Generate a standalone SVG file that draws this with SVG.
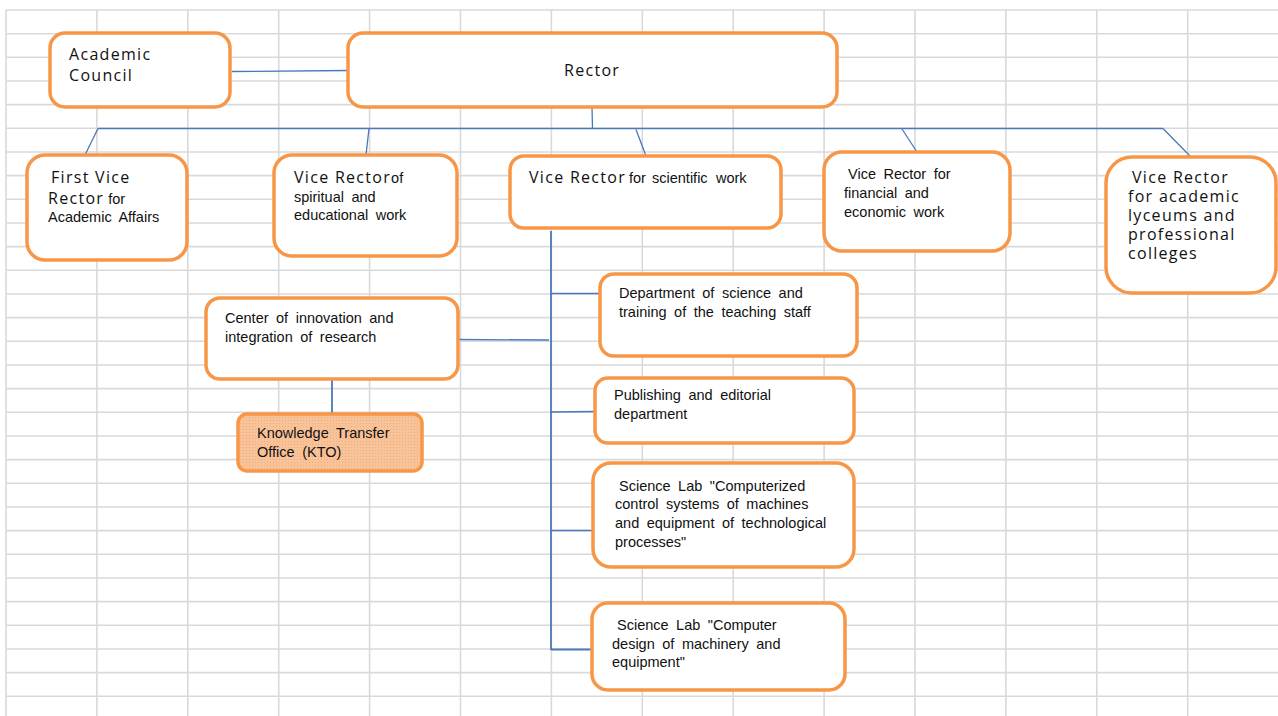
<svg xmlns="http://www.w3.org/2000/svg" width="1278" height="716" viewBox="0 0 1278 716">
<style>
.grid line{stroke:#d9d9d9;stroke-width:1.6}
.box{fill:#ffffff;stroke:#f79646;stroke-width:3.5}
.kto{fill:url(#dots);stroke:#f79646;stroke-width:3.5}
.big{font-family:"Open Sans","DejaVu Sans",sans-serif;font-size:16px;letter-spacing:1.3px;fill:#111}
.sm{font-family:"Liberation Sans",Arial,sans-serif;font-size:14.5px;word-spacing:3.5px;fill:#111;letter-spacing:0}
.conn path{fill:none;stroke:#4a78bd;stroke-width:1.3}
.trunk{stroke-width:1.8 !important}
</style>
<defs>
<pattern id="dots" width="3" height="3" patternUnits="userSpaceOnUse">
<rect width="3" height="3" fill="#f9c39a"/>
<rect width="1" height="1" fill="#f3ad7d"/>
</pattern>
</defs>
<rect width="1278" height="716" fill="#ffffff"/>
<g class="grid">
<line x1="6" y1="10" x2="6" y2="716"/>
<line x1="96.9" y1="10" x2="96.9" y2="716"/>
<line x1="187.8" y1="10" x2="187.8" y2="716"/>
<line x1="278.7" y1="10" x2="278.7" y2="716"/>
<line x1="369.6" y1="10" x2="369.6" y2="716"/>
<line x1="460.5" y1="10" x2="460.5" y2="716"/>
<line x1="551.4" y1="10" x2="551.4" y2="716"/>
<line x1="642.3" y1="10" x2="642.3" y2="716"/>
<line x1="733.2" y1="10" x2="733.2" y2="716"/>
<line x1="824.1" y1="10" x2="824.1" y2="716"/>
<line x1="915" y1="10" x2="915" y2="716"/>
<line x1="1005.9" y1="10" x2="1005.9" y2="716"/>
<line x1="1096.8" y1="10" x2="1096.8" y2="716"/>
<line x1="1187.7" y1="10" x2="1187.7" y2="716"/>
<line x1="6" y1="10" x2="1278" y2="10"/>
<line x1="6" y1="33.7" x2="1278" y2="33.7"/>
<line x1="6" y1="57.3" x2="1278" y2="57.3"/>
<line x1="6" y1="81" x2="1278" y2="81"/>
<line x1="6" y1="104.6" x2="1278" y2="104.6"/>
<line x1="6" y1="128.3" x2="1278" y2="128.3"/>
<line x1="6" y1="152" x2="1278" y2="152"/>
<line x1="6" y1="175.6" x2="1278" y2="175.6"/>
<line x1="6" y1="199.3" x2="1278" y2="199.3"/>
<line x1="6" y1="223" x2="1278" y2="223"/>
<line x1="6" y1="246.6" x2="1278" y2="246.6"/>
<line x1="6" y1="270.3" x2="1278" y2="270.3"/>
<line x1="6" y1="294" x2="1278" y2="294"/>
<line x1="6" y1="317.6" x2="1278" y2="317.6"/>
<line x1="6" y1="341.3" x2="1278" y2="341.3"/>
<line x1="6" y1="365" x2="1278" y2="365"/>
<line x1="6" y1="388.6" x2="1278" y2="388.6"/>
<line x1="6" y1="412.3" x2="1278" y2="412.3"/>
<line x1="6" y1="436" x2="1278" y2="436"/>
<line x1="6" y1="459.6" x2="1278" y2="459.6"/>
<line x1="6" y1="483.3" x2="1278" y2="483.3"/>
<line x1="6" y1="507" x2="1278" y2="507"/>
<line x1="6" y1="530.6" x2="1278" y2="530.6"/>
<line x1="6" y1="554.3" x2="1278" y2="554.3"/>
<line x1="6" y1="578" x2="1278" y2="578"/>
<line x1="6" y1="601.6" x2="1278" y2="601.6"/>
<line x1="6" y1="625.3" x2="1278" y2="625.3"/>
<line x1="6" y1="649" x2="1278" y2="649"/>
<line x1="6" y1="672.6" x2="1278" y2="672.6"/>
<line x1="6" y1="696.3" x2="1278" y2="696.3"/>
</g>
<g class="conn">
<path d="M232,71.5 L348,70.5"/>
<path d="M592,107 L592.5,128.5"/>
<path d="M98,128.5 L1163,128.5"/>
<path d="M98,128.5 L85,155"/>
<path d="M369,128.5 L366,155"/>
<path d="M636,129.5 L646,156"/>
<path d="M902,129 L917,152"/>
<path d="M1163,128.5 L1191,157"/>
<path class="trunk" d="M551,231 L551,650"/>
<path d="M551,293.5 L600,293.5"/>
<path d="M551,412 L596,411.5"/>
<path d="M458,339.5 L549,340"/>
<path class="trunk" d="M332,379 L332,414"/>
<path d="M551,530.5 L594,530.5"/>
<path class="trunk" d="M551,649.5 L593,649.5"/>
</g>
<g id="academic-council">
<rect class="box" x="50" y="33" width="180" height="74" rx="15"/>
<text class="big" x="69" y="60">Academic</text>
<text class="big" x="69" y="81">Council</text>
</g>
<g id="rector">
<rect class="box" x="348" y="33" width="489" height="74" rx="15"/>
<text class="big" x="564" y="76">Rector</text>
</g>
<g id="first-vice-rector">
<rect class="box" x="27" y="155" width="160" height="105" rx="18"/>
<text class="big" x="51" y="183">First Vice</text>
<text x="48" y="204"><tspan class="big">Rector</tspan><tspan class="sm" dx="4">for</tspan></text>
<text class="sm" x="48" y="222">Academic Affairs</text>
</g>
<g id="vr-spiritual">
<rect class="box" x="274" y="155" width="183" height="101" rx="18"/>
<text x="294" y="183"><tspan class="big">Vice Rector</tspan><tspan class="sm">of</tspan></text>
<text class="sm" x="294" y="202">spiritual and</text>
<text class="sm" x="294" y="220">educational work</text>
</g>
<g id="vr-scientific">
<rect class="box" x="510" y="156" width="271" height="72" rx="14"/>
<text x="529" y="183"><tspan class="big">Vice Rector</tspan><tspan class="sm" x="629">for</tspan><tspan class="sm" x="652">scientific</tspan><tspan class="sm" x="716">work</tspan></text>
</g>
<g id="vr-financial">
<rect class="box" x="824" y="152" width="186" height="99" rx="18"/>
<text class="sm" x="848" y="179">Vice Rector for</text>
<text class="sm" x="844" y="198">financial and</text>
<text class="sm" x="844" y="217">economic work</text>
</g>
<g id="vr-lyceums">
<rect class="box" x="1106" y="157" width="170" height="136" rx="26"/>
<text class="big" x="1132" y="183">Vice Rector</text>
<text class="big" x="1128" y="202">for academic</text>
<text class="big" x="1128" y="221">lyceums and</text>
<text class="big" x="1128" y="240">professional</text>
<text class="big" x="1128" y="259">colleges</text>
</g>
<g id="dept-science">
<rect class="box" x="600" y="274" width="257" height="82" rx="14"/>
<text class="sm" x="619" y="298">Department of science and</text>
<text class="sm" x="619" y="317">training of the teaching staff</text>
</g>
<g id="center-innovation">
<rect class="box" x="206" y="298" width="252" height="81" rx="14"/>
<text class="sm" x="225" y="323">Center of innovation and</text>
<text class="sm" x="225" y="342">integration of research</text>
</g>
<g id="kto">
<rect class="kto" x="238" y="414" width="184" height="57" rx="9"/>
<text class="sm" x="257" y="438">Knowledge Transfer</text>
<text class="sm" x="257" y="457">Office (KTO)</text>
</g>
<g id="publishing">
<rect class="box" x="595" y="378" width="259" height="65" rx="13"/>
<text class="sm" x="614" y="400">Publishing and editorial</text>
<text class="sm" x="614" y="419">department</text>
</g>
<g id="lab-control">
<rect class="box" x="593" y="463" width="261" height="104" rx="18"/>
<text class="sm" x="619" y="491">Science Lab "Computerized</text>
<text class="sm" x="615" y="509">control systems of machines</text>
<text class="sm" x="615" y="528">and equipment of technological</text>
<text class="sm" x="615" y="547">processes"</text>
</g>
<g id="lab-design">
<rect class="box" x="592" y="603" width="253" height="87" rx="16"/>
<text class="sm" x="617" y="630">Science Lab "Computer</text>
<text class="sm" x="612" y="649">design of machinery and</text>
<text class="sm" x="612" y="667">equipment"</text>
</g>
</svg>
